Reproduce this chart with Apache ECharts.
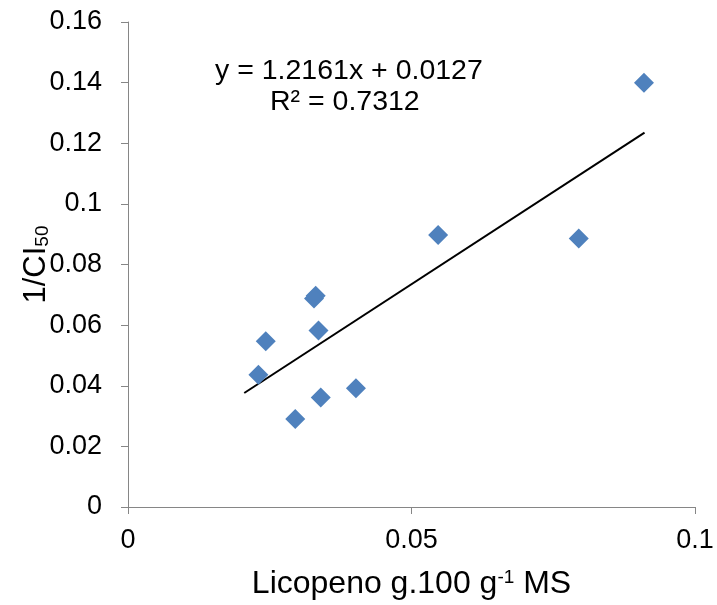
<!DOCTYPE html>
<html>
<head>
<meta charset="utf-8">
<script src="https://cdn.jsdelivr.net/npm/echarts@6/dist/echarts.min.js"></script>
<style>
html,body{margin:0;padding:0;background:#fff;}
#chart{width:717px;height:605px;}
</style>
</head>
<body>
<div id="chart"></div>
<script>
// Data
var licopeno = [0.0910, 0.0547, 0.0795, 0.0331, 0.0328, 0.0336, 0.0243, 0.0230, 0.0340, 0.0402, 0.0295];
var inverseCI50 = [0.1400, 0.0897, 0.0886, 0.0697, 0.0688, 0.0582, 0.0547, 0.0436, 0.0361, 0.0392, 0.0290];
var trendX = [0.0205, 0.0911];
var trendY = [0.0376, 0.1235];
var xTicks = [0, 0.05, 0.1];
var yTicks = [0, 0.02, 0.04, 0.06, 0.08, 0.1, 0.12, 0.14, 0.16];
var equationText = 'y = 1.2161x + 0.0127';
var r2Text = 'R² = 0.7312';

var points = licopeno.map(function (x, i) { return [x, inverseCI50[i]]; });
var trend = trendX.map(function (x, i) { return [x, trendY[i]]; });

var FONT = "'Liberation Sans', Arial, sans-serif";
var AXIS = '#868686';

var chart = echarts.init(document.getElementById('chart'));
chart.setOption({
  animation: false,
  backgroundColor: '#fff',
  grid: { left: 128, right: 22, top: 22, bottom: 98, containLabel: false },
  xAxis: {
    type: 'value',
    min: xTicks[0], max: xTicks[xTicks.length - 1], interval: 0.05,
    axisLine: { show: true, lineStyle: { color: AXIS, width: 1 } },
    axisTick: { show: true, length: 7, lineStyle: { color: AXIS } },
    splitLine: { show: false },
    axisLabel: { color: '#000', fontSize: 27, fontFamily: FONT, margin: 20,
      formatter: function (v) { return String(+v.toFixed(2)); } },
    name: '{n|Licopeno g.100 g}{s|-1}{n| MS}',
    nameLocation: 'middle', nameGap: 61, nameMoveOverlap: false,
    nameTextStyle: { rich: {
      n: { fontSize: 32, fontFamily: FONT, color: '#000' },
      s: { fontSize: 19, lineHeight: 19, fontFamily: FONT, color: '#000', verticalAlign: 'top' }
    } }
  },
  yAxis: {
    type: 'value',
    min: yTicks[0], max: yTicks[yTicks.length - 1], interval: 0.02,
    axisLine: { show: true, lineStyle: { color: AXIS, width: 1 } },
    axisTick: { show: true, length: 7, lineStyle: { color: AXIS } },
    splitLine: { show: false },
    axisLabel: { color: '#000', fontSize: 27, fontFamily: FONT, margin: 26,
      formatter: function (v) { return String(+v.toFixed(2)); } },
    name: '{n|1/CI}{s|50}',
    nameLocation: 'middle', nameGap: 76, nameRotate: 90, nameMoveOverlap: false,
    nameTextStyle: { rich: {
      n: { fontSize: 31, fontFamily: FONT, color: '#000' },
      s: { fontSize: 19, lineHeight: 19, fontFamily: FONT, color: '#000', verticalAlign: 'bottom', padding: [5, 0, 0, 0] }
    } }
  },
  series: [
    {
      type: 'line', data: trend, symbol: 'none', silent: true,
      lineStyle: { color: '#000', width: 2 }, z: 3
    },
    {
      type: 'scatter', data: points, symbol: 'diamond', symbolSize: 20,
      itemStyle: { color: '#4F81BD', opacity: 1 }, z: 4
    }
  ],
  graphic: [
    { type: 'text', x: 215, y: 71,
      style: { text: equationText, font: '28.5px ' + FONT, fill: '#000', align: 'left', verticalAlign: 'middle' } },
    { type: 'text', x: 270, y: 102,
      style: { text: r2Text, font: '28.5px ' + FONT, fill: '#000', align: 'left', verticalAlign: 'middle' } }
  ]
});
</script>
</body>
</html>
